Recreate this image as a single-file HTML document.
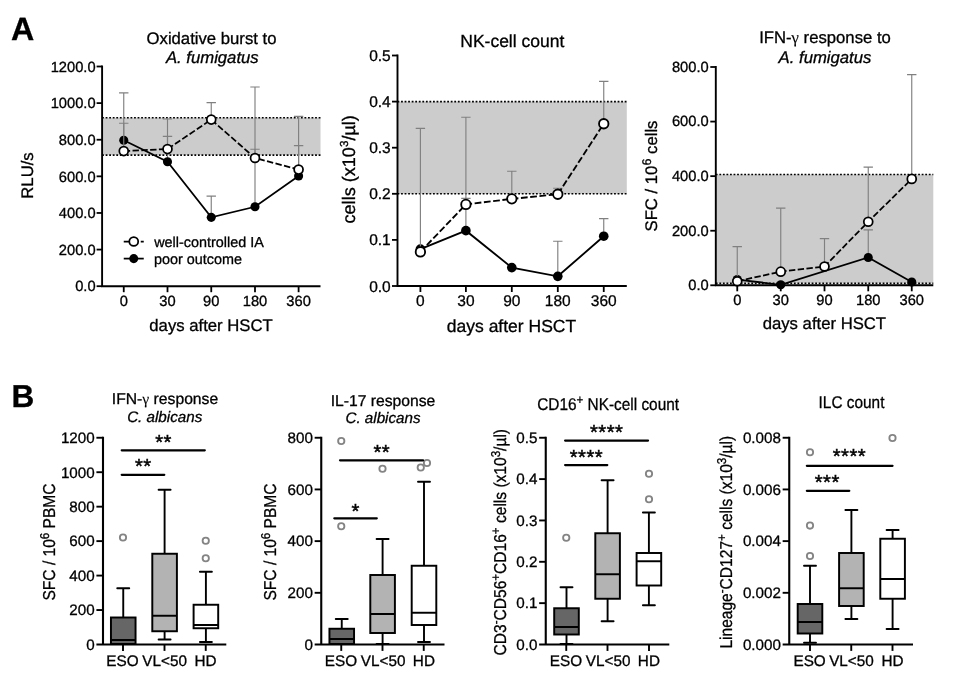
<!DOCTYPE html>
<html lang="en">
<head>
<meta charset="utf-8">
<title>Figure</title>
<style>
html,body{margin:0;padding:0;background:#fff;}
body{width:960px;height:689px;overflow:hidden;}
svg{display:block;font-family:'Liberation Sans', sans-serif;fill:#000;}
svg text{fill:#000;stroke:#000;stroke-width:0.3px;text-rendering:geometricPrecision;}
</style>
</head>
<body>
<svg width="960" height="689" viewBox="0 0 960 689">
<rect x="0" y="0" width="960" height="689" fill="#ffffff"/>
<rect x="102.1" y="117.76" width="218.4" height="37.35" fill="#cccccc"/>
<line x1="102.1" y1="155.11" x2="320.5" y2="155.11" stroke="#000" stroke-width="1.6" stroke-dasharray="1.8 1.75"/>
<line x1="102.1" y1="117.76" x2="320.5" y2="117.76" stroke="#000" stroke-width="1.6" stroke-dasharray="1.8 1.75"/>
<path d="M102.1 65.6V286.2H320.5" stroke="#000" stroke-width="1.9" fill="none" stroke-linejoin="miter"/>
<line x1="96.6" y1="286.2" x2="102.1" y2="286.2" stroke="#000" stroke-width="1.8"/>
<text x="95.6" y="291.4" font-size="14.7" text-anchor="end">0.0</text>
<line x1="96.6" y1="249.58" x2="102.1" y2="249.58" stroke="#000" stroke-width="1.8"/>
<text x="95.6" y="254.78" font-size="14.7" text-anchor="end">200.0</text>
<line x1="96.6" y1="212.97" x2="102.1" y2="212.97" stroke="#000" stroke-width="1.8"/>
<text x="95.6" y="218.17" font-size="14.7" text-anchor="end">400.0</text>
<line x1="96.6" y1="176.35" x2="102.1" y2="176.35" stroke="#000" stroke-width="1.8"/>
<text x="95.6" y="181.55" font-size="14.7" text-anchor="end">600.0</text>
<line x1="96.6" y1="139.73" x2="102.1" y2="139.73" stroke="#000" stroke-width="1.8"/>
<text x="95.6" y="144.93" font-size="14.7" text-anchor="end">800.0</text>
<line x1="96.6" y1="103.12" x2="102.1" y2="103.12" stroke="#000" stroke-width="1.8"/>
<text x="95.6" y="108.32" font-size="14.7" text-anchor="end">1000.0</text>
<line x1="96.6" y1="66.5" x2="102.1" y2="66.5" stroke="#000" stroke-width="1.8"/>
<text x="95.6" y="71.7" font-size="14.7" text-anchor="end">1200.0</text>
<line x1="123.75" y1="286.2" x2="123.75" y2="292.2" stroke="#000" stroke-width="1.8"/>
<text x="123.75" y="305.7" font-size="14.7" text-anchor="middle">0</text>
<line x1="167.5" y1="286.2" x2="167.5" y2="292.2" stroke="#000" stroke-width="1.8"/>
<text x="167.5" y="305.7" font-size="14.7" text-anchor="middle">30</text>
<line x1="211.25" y1="286.2" x2="211.25" y2="292.2" stroke="#000" stroke-width="1.8"/>
<text x="211.25" y="305.7" font-size="14.7" text-anchor="middle">90</text>
<line x1="255" y1="286.2" x2="255" y2="292.2" stroke="#000" stroke-width="1.8"/>
<text x="255" y="305.7" font-size="14.7" text-anchor="middle">180</text>
<line x1="298.6" y1="286.2" x2="298.6" y2="292.2" stroke="#000" stroke-width="1.8"/>
<text x="298.6" y="305.7" font-size="14.7" text-anchor="middle">360</text>
<path d="M123.75 140.28V123.26M119.05 123.26H128.45" stroke="#808080" stroke-width="1.15" fill="none"/>
<path d="M167.5 161.7V136.44M162.8 136.44H172.2" stroke="#808080" stroke-width="1.15" fill="none"/>
<path d="M211.25 217.36V196.12M206.55 196.12H215.95" stroke="#808080" stroke-width="1.15" fill="none"/>
<path d="M255 206.74V87.01M250.3 87.01H259.7" stroke="#808080" stroke-width="1.15" fill="none"/>
<path d="M298.6 175.98V145.59M293.90000000000003 145.59H303.3" stroke="#808080" stroke-width="1.15" fill="none"/>
<polyline points="123.75,140.28 167.5,161.7 211.25,217.36 255,206.74 298.6,175.98" fill="none" stroke="#000" stroke-width="1.75"/>
<circle cx="123.75" cy="140.28" r="4.55" fill="#000"/>
<circle cx="167.5" cy="161.7" r="4.55" fill="#000"/>
<circle cx="211.25" cy="217.36" r="4.55" fill="#000"/>
<circle cx="255" cy="206.74" r="4.55" fill="#000"/>
<circle cx="298.6" cy="175.98" r="4.55" fill="#000"/>
<path d="M123.75 151.08V92.86M119.05 92.86H128.45" stroke="#808080" stroke-width="1.15" fill="none"/>
<path d="M167.5 149.07V119.04M162.8 119.04H172.2" stroke="#808080" stroke-width="1.15" fill="none"/>
<path d="M211.25 119.59V102.57M206.55 102.57H215.95" stroke="#808080" stroke-width="1.15" fill="none"/>
<path d="M255 158.04V149.25M250.3 149.25H259.7" stroke="#808080" stroke-width="1.15" fill="none"/>
<path d="M298.6 169.58V116.3M293.90000000000003 116.3H303.3" stroke="#808080" stroke-width="1.15" fill="none"/>
<polyline points="123.75,151.08 167.5,149.07 211.25,119.59 255,158.04 298.6,169.58" fill="none" stroke="#000" stroke-width="1.75" stroke-dasharray="6.4 2.4"/>
<circle cx="123.75" cy="151.08" r="4.45" fill="#fff" stroke="#000" stroke-width="1.75"/>
<circle cx="167.5" cy="149.07" r="4.45" fill="#fff" stroke="#000" stroke-width="1.75"/>
<circle cx="211.25" cy="119.59" r="4.45" fill="#fff" stroke="#000" stroke-width="1.75"/>
<circle cx="255" cy="158.04" r="4.45" fill="#fff" stroke="#000" stroke-width="1.75"/>
<circle cx="298.6" cy="169.58" r="4.45" fill="#fff" stroke="#000" stroke-width="1.75"/>
<text x="211.5" y="43.9" font-size="16.7" text-anchor="middle">Oxidative burst to</text>
<text x="212.3" y="62.9" font-size="16.7" text-anchor="middle" font-style="italic">A. fumigatus</text>
<text x="211" y="330.7" font-size="16.7" text-anchor="middle">days after HSCT</text>
<text transform="translate(33.4 175.5) rotate(-90)" font-size="16.7" text-anchor="middle">RLU/s</text>
<rect x="397.5" y="101.6" width="229.29999999999995" height="92.2" fill="#cccccc"/>
<line x1="397.5" y1="193.8" x2="626.8" y2="193.8" stroke="#000" stroke-width="1.6" stroke-dasharray="1.8 1.75"/>
<line x1="397.5" y1="101.6" x2="626.8" y2="101.6" stroke="#000" stroke-width="1.6" stroke-dasharray="1.8 1.75"/>
<path d="M397.5 54.6V286.0H626.8" stroke="#000" stroke-width="1.9" fill="none" stroke-linejoin="miter"/>
<line x1="392.0" y1="286.0" x2="397.5" y2="286.0" stroke="#000" stroke-width="1.8"/>
<text x="390.7" y="291.5" font-size="15.5" text-anchor="end">0.0</text>
<line x1="392.0" y1="239.9" x2="397.5" y2="239.9" stroke="#000" stroke-width="1.8"/>
<text x="390.7" y="245.4" font-size="15.5" text-anchor="end">0.1</text>
<line x1="392.0" y1="193.8" x2="397.5" y2="193.8" stroke="#000" stroke-width="1.8"/>
<text x="390.7" y="199.3" font-size="15.5" text-anchor="end">0.2</text>
<line x1="392.0" y1="147.7" x2="397.5" y2="147.7" stroke="#000" stroke-width="1.8"/>
<text x="390.7" y="153.2" font-size="15.5" text-anchor="end">0.3</text>
<line x1="392.0" y1="101.6" x2="397.5" y2="101.6" stroke="#000" stroke-width="1.8"/>
<text x="390.7" y="107.1" font-size="15.5" text-anchor="end">0.4</text>
<line x1="392.0" y1="55.5" x2="397.5" y2="55.5" stroke="#000" stroke-width="1.8"/>
<text x="390.7" y="61.0" font-size="15.5" text-anchor="end">0.5</text>
<line x1="420.4" y1="286.0" x2="420.4" y2="292.0" stroke="#000" stroke-width="1.8"/>
<text x="420.4" y="306.2" font-size="15.5" text-anchor="middle">0</text>
<line x1="465.9" y1="286.0" x2="465.9" y2="292.0" stroke="#000" stroke-width="1.8"/>
<text x="465.9" y="306.2" font-size="15.5" text-anchor="middle">30</text>
<line x1="511.8" y1="286.0" x2="511.8" y2="292.0" stroke="#000" stroke-width="1.8"/>
<text x="511.8" y="306.2" font-size="15.5" text-anchor="middle">90</text>
<line x1="557.8" y1="286.0" x2="557.8" y2="292.0" stroke="#000" stroke-width="1.8"/>
<text x="557.8" y="306.2" font-size="15.5" text-anchor="middle">180</text>
<line x1="603.75" y1="286.0" x2="603.75" y2="292.0" stroke="#000" stroke-width="1.8"/>
<text x="603.75" y="306.2" font-size="15.5" text-anchor="middle">360</text>
<path d="M465.9 230.68V198.41M461.2 198.41H470.59999999999997" stroke="#808080" stroke-width="1.15" fill="none"/>
<path d="M557.8 276.32V241.28M553.0999999999999 241.28H562.5" stroke="#808080" stroke-width="1.15" fill="none"/>
<path d="M603.75 236.21V218.69M599.05 218.69H608.45" stroke="#808080" stroke-width="1.15" fill="none"/>
<polyline points="420.4,249.12 465.9,230.68 511.8,267.56 557.8,276.32 603.75,236.21" fill="none" stroke="#000" stroke-width="1.85"/>
<circle cx="420.4" cy="249.12" r="4.82" fill="#000"/>
<circle cx="465.9" cy="230.68" r="4.82" fill="#000"/>
<circle cx="511.8" cy="267.56" r="4.82" fill="#000"/>
<circle cx="557.8" cy="276.32" r="4.82" fill="#000"/>
<circle cx="603.75" cy="236.21" r="4.82" fill="#000"/>
<path d="M420.4 251.89V128.34M415.7 128.34H425.09999999999997" stroke="#808080" stroke-width="1.15" fill="none"/>
<path d="M465.9 204.4V117.27M461.2 117.27H470.59999999999997" stroke="#808080" stroke-width="1.15" fill="none"/>
<path d="M511.8 198.87V171.21M507.1 171.21H516.5" stroke="#808080" stroke-width="1.15" fill="none"/>
<path d="M557.8 194.26V188.27M553.0999999999999 188.27H562.5" stroke="#808080" stroke-width="1.15" fill="none"/>
<path d="M603.75 123.73V81.32M599.05 81.32H608.45" stroke="#808080" stroke-width="1.15" fill="none"/>
<polyline points="420.4,251.89 465.9,204.4 511.8,198.87 557.8,194.26 603.75,123.73" fill="none" stroke="#000" stroke-width="1.85" stroke-dasharray="6.78 2.54"/>
<circle cx="420.4" cy="251.89" r="4.72" fill="#fff" stroke="#000" stroke-width="1.85"/>
<circle cx="465.9" cy="204.4" r="4.72" fill="#fff" stroke="#000" stroke-width="1.85"/>
<circle cx="511.8" cy="198.87" r="4.72" fill="#fff" stroke="#000" stroke-width="1.85"/>
<circle cx="557.8" cy="194.26" r="4.72" fill="#fff" stroke="#000" stroke-width="1.85"/>
<circle cx="603.75" cy="123.73" r="4.72" fill="#fff" stroke="#000" stroke-width="1.85"/>
<text x="512.3" y="47.1" font-size="17.5" text-anchor="middle">NK-cell count</text>
<text x="511.5" y="331.6" font-size="17.5" text-anchor="middle">days after HSCT</text>
<text transform="translate(354.6 169.3) rotate(-90)" font-size="18.1" text-anchor="middle">cells (x10<tspan font-size="11.6" dy="-6.6">3</tspan><tspan dy="6.6">/µl)</tspan></text>
<rect x="715.8" y="174.51" width="217.5" height="108.88" fill="#cccccc"/>
<line x1="715.8" y1="283.39" x2="933.3" y2="283.39" stroke="#000" stroke-width="1.6" stroke-dasharray="1.8 1.75"/>
<line x1="715.8" y1="174.51" x2="933.3" y2="174.51" stroke="#000" stroke-width="1.6" stroke-dasharray="1.8 1.75"/>
<path d="M715.8 66.1V285.3H933.3" stroke="#000" stroke-width="1.9" fill="none" stroke-linejoin="miter"/>
<line x1="710.3" y1="285.3" x2="715.8" y2="285.3" stroke="#000" stroke-width="1.8"/>
<text x="708.7" y="290.1" font-size="14.7" text-anchor="end">0.0</text>
<line x1="710.3" y1="230.73" x2="715.8" y2="230.73" stroke="#000" stroke-width="1.8"/>
<text x="708.7" y="235.53" font-size="14.7" text-anchor="end">200.0</text>
<line x1="710.3" y1="176.15" x2="715.8" y2="176.15" stroke="#000" stroke-width="1.8"/>
<text x="708.7" y="180.95" font-size="14.7" text-anchor="end">400.0</text>
<line x1="710.3" y1="121.58" x2="715.8" y2="121.58" stroke="#000" stroke-width="1.8"/>
<text x="708.7" y="126.38" font-size="14.7" text-anchor="end">600.0</text>
<line x1="710.3" y1="67.0" x2="715.8" y2="67.0" stroke="#000" stroke-width="1.8"/>
<text x="708.7" y="71.8" font-size="14.7" text-anchor="end">800.0</text>
<line x1="737.25" y1="285.3" x2="737.25" y2="291.3" stroke="#000" stroke-width="1.8"/>
<text x="737.25" y="304.7" font-size="14.7" text-anchor="middle">0</text>
<line x1="780.75" y1="285.3" x2="780.75" y2="291.3" stroke="#000" stroke-width="1.8"/>
<text x="780.75" y="304.7" font-size="14.7" text-anchor="middle">30</text>
<line x1="824.5" y1="285.3" x2="824.5" y2="291.3" stroke="#000" stroke-width="1.8"/>
<text x="824.5" y="304.7" font-size="14.7" text-anchor="middle">90</text>
<line x1="868.25" y1="285.3" x2="868.25" y2="291.3" stroke="#000" stroke-width="1.8"/>
<text x="868.25" y="304.7" font-size="14.7" text-anchor="middle">180</text>
<line x1="911.75" y1="285.3" x2="911.75" y2="291.3" stroke="#000" stroke-width="1.8"/>
<text x="911.75" y="304.7" font-size="14.7" text-anchor="middle">360</text>
<path d="M868.25 257.47V229.91M863.55 229.91H872.95" stroke="#808080" stroke-width="1.15" fill="none"/>
<polyline points="737.25,279.57 780.75,284.75 868.25,257.47 911.75,282.03" fill="none" stroke="#000" stroke-width="1.75"/>
<circle cx="737.25" cy="279.57" r="4.55" fill="#000"/>
<circle cx="780.75" cy="284.75" r="4.55" fill="#000"/>
<circle cx="868.25" cy="257.47" r="4.55" fill="#000"/>
<circle cx="911.75" cy="282.03" r="4.55" fill="#000"/>
<path d="M737.25 281.21V246.55M732.55 246.55H741.95" stroke="#808080" stroke-width="1.15" fill="none"/>
<path d="M780.75 271.66V208.08M776.05 208.08H785.45" stroke="#808080" stroke-width="1.15" fill="none"/>
<path d="M824.5 266.47V238.64M819.8 238.64H829.2" stroke="#808080" stroke-width="1.15" fill="none"/>
<path d="M868.25 221.72V167.15M863.55 167.15H872.95" stroke="#808080" stroke-width="1.15" fill="none"/>
<path d="M911.75 178.88V74.64M907.05 74.64H916.45" stroke="#808080" stroke-width="1.15" fill="none"/>
<polyline points="737.25,281.21 780.75,271.66 824.5,266.47 868.25,221.72 911.75,178.88" fill="none" stroke="#000" stroke-width="1.75" stroke-dasharray="6.4 2.4"/>
<circle cx="737.25" cy="281.21" r="4.45" fill="#fff" stroke="#000" stroke-width="1.75"/>
<circle cx="780.75" cy="271.66" r="4.45" fill="#fff" stroke="#000" stroke-width="1.75"/>
<circle cx="824.5" cy="266.47" r="4.45" fill="#fff" stroke="#000" stroke-width="1.75"/>
<circle cx="868.25" cy="221.72" r="4.45" fill="#fff" stroke="#000" stroke-width="1.75"/>
<circle cx="911.75" cy="178.88" r="4.45" fill="#fff" stroke="#000" stroke-width="1.75"/>
<text x="825" y="43.1" font-size="16.7" text-anchor="middle">IFN-<tspan font-family="'Liberation Serif', serif" style="stroke-width:0.1px">γ</tspan> response to</text>
<text x="825" y="63.0" font-size="16.7" text-anchor="middle" font-style="italic">A. fumigatus</text>
<text x="824.4" y="329" font-size="16.7" text-anchor="middle">days after HSCT</text>
<text transform="translate(657.2 176) rotate(-90)" font-size="16.7" text-anchor="middle">SFC / 10<tspan font-size="12.6" dy="-6.3">6</tspan><tspan dy="6.3"> cells</tspan></text>
<line x1="123.75" y1="241.5" x2="143.75" y2="241.5" stroke="#000" stroke-width="1.75" stroke-dasharray="6 2.5"/>
<circle cx="133.75" cy="241.5" r="4.45" fill="#fff" stroke="#000" stroke-width="1.75"/>
<line x1="123.75" y1="258.6" x2="143.75" y2="258.6" stroke="#000" stroke-width="1.75"/>
<circle cx="133.75" cy="258.6" r="4.55" fill="#000"/>
<text x="154.2" y="246.6" font-size="14.4" text-anchor="start">well-controlled IA</text>
<text x="153.9" y="264.1" font-size="14.4" text-anchor="start">poor outcome</text>
<path d="M103 436.75V644.5M96.4 644.5H226.3" stroke="#000" stroke-width="2.1" fill="none"/>
<text x="94.7" y="649.8" font-size="15.2" text-anchor="end">0</text>
<line x1="96.4" y1="610.04" x2="103" y2="610.04" stroke="#000" stroke-width="1.9"/>
<text x="94.7" y="615.34" font-size="15.2" text-anchor="end">200</text>
<line x1="96.4" y1="575.58" x2="103" y2="575.58" stroke="#000" stroke-width="1.9"/>
<text x="94.7" y="580.88" font-size="15.2" text-anchor="end">400</text>
<line x1="96.4" y1="541.12" x2="103" y2="541.12" stroke="#000" stroke-width="1.9"/>
<text x="94.7" y="546.42" font-size="15.2" text-anchor="end">600</text>
<line x1="96.4" y1="506.67" x2="103" y2="506.67" stroke="#000" stroke-width="1.9"/>
<text x="94.7" y="511.97" font-size="15.2" text-anchor="end">800</text>
<line x1="96.4" y1="472.21" x2="103" y2="472.21" stroke="#000" stroke-width="1.9"/>
<text x="94.7" y="477.51" font-size="15.2" text-anchor="end">1000</text>
<line x1="96.4" y1="437.75" x2="103" y2="437.75" stroke="#000" stroke-width="1.9"/>
<text x="94.7" y="443.05" font-size="15.2" text-anchor="end">1200</text>
<line x1="123" y1="644.5" x2="123" y2="650.9" stroke="#000" stroke-width="1.9"/>
<line x1="164.5" y1="644.5" x2="164.5" y2="650.9" stroke="#000" stroke-width="1.9"/>
<line x1="205.75" y1="644.5" x2="205.75" y2="650.9" stroke="#000" stroke-width="1.9"/>
<text x="122.5" y="666.2" font-size="15.3" text-anchor="middle">ESO</text>
<text x="164.6" y="666.2" font-size="15.3" text-anchor="middle">VL&lt;50</text>
<text x="205.6" y="666.2" font-size="15.3" text-anchor="middle">HD</text>
<path d="M123.25 588.25V617.5M123.25 644V644M117.25 588.25H129.25M117.25 644H129.25" stroke="#000" stroke-width="1.9" stroke-linecap="round" fill="none"/>
<rect x="110.95" y="617.5" width="24.6" height="26.5" fill="#666666" stroke="#000" stroke-width="1.95"/>
<line x1="110.95" y1="640" x2="135.55" y2="640" stroke="#000" stroke-width="1.95"/>
<path d="M164.6 489.75V553.75M164.6 631.25V639.5M158.6 489.75H170.6M158.6 639.5H170.6" stroke="#000" stroke-width="1.9" stroke-linecap="round" fill="none"/>
<rect x="152.3" y="553.75" width="24.6" height="77.5" fill="#b3b3b3" stroke="#000" stroke-width="1.95"/>
<line x1="152.3" y1="615.75" x2="176.9" y2="615.75" stroke="#000" stroke-width="1.95"/>
<path d="M205.9 571.75V604.75M205.9 628.25V642M199.9 571.75H211.9M199.9 642H211.9" stroke="#000" stroke-width="1.9" stroke-linecap="round" fill="none"/>
<rect x="193.6" y="604.75" width="24.6" height="23.5" fill="#ffffff" stroke="#000" stroke-width="1.95"/>
<line x1="193.6" y1="625" x2="218.2" y2="625" stroke="#000" stroke-width="1.95"/>
<circle cx="123" cy="537.5" r="3.15" fill="#fff" stroke="#848484" stroke-width="1.85"/>
<circle cx="205.75" cy="540.75" r="3.15" fill="#fff" stroke="#848484" stroke-width="1.85"/>
<circle cx="205.75" cy="558.25" r="3.15" fill="#fff" stroke="#848484" stroke-width="1.85"/>
<line x1="121.7" y1="450.3" x2="204.8" y2="450.3" stroke="#000" stroke-width="2.2" stroke-linecap="round"/>
<text x="163.47" y="448.7" font-size="20.3" text-anchor="middle" letter-spacing="0.45" style="stroke-width:0.45px">**</text>
<line x1="121.7" y1="474.8" x2="164.3" y2="474.8" stroke="#000" stroke-width="2.2" stroke-linecap="round"/>
<text x="143.22" y="473.4" font-size="20.3" text-anchor="middle" letter-spacing="0.45" style="stroke-width:0.45px">**</text>
<text x="165" y="403.8" font-size="15.7" text-anchor="middle">IFN-<tspan font-family="'Liberation Serif', serif" style="stroke-width:0.1px">γ</tspan> response</text>
<text x="164.7" y="422.2" font-size="15.2" text-anchor="middle" font-style="italic">C. albicans</text>
<text transform="translate(55.2 542) rotate(-90) scale(0.905 1)" font-size="17.2" text-anchor="middle">SFC / 10<tspan font-size="12.8" dy="-6.0">6</tspan><tspan dy="6.0"> PBMC</tspan></text>
<path d="M321.25 436.75V644.5M314.65 644.5H444.5" stroke="#000" stroke-width="2.1" fill="none"/>
<text x="312.95" y="649.8" font-size="15.2" text-anchor="end">0</text>
<line x1="314.65" y1="592.81" x2="321.25" y2="592.81" stroke="#000" stroke-width="1.9"/>
<text x="312.95" y="598.11" font-size="15.2" text-anchor="end">200</text>
<line x1="314.65" y1="541.12" x2="321.25" y2="541.12" stroke="#000" stroke-width="1.9"/>
<text x="312.95" y="546.42" font-size="15.2" text-anchor="end">400</text>
<line x1="314.65" y1="489.44" x2="321.25" y2="489.44" stroke="#000" stroke-width="1.9"/>
<text x="312.95" y="494.74" font-size="15.2" text-anchor="end">600</text>
<line x1="314.65" y1="437.75" x2="321.25" y2="437.75" stroke="#000" stroke-width="1.9"/>
<text x="312.95" y="443.05" font-size="15.2" text-anchor="end">800</text>
<line x1="341.25" y1="644.5" x2="341.25" y2="650.9" stroke="#000" stroke-width="1.9"/>
<line x1="382.5" y1="644.5" x2="382.5" y2="650.9" stroke="#000" stroke-width="1.9"/>
<line x1="423.75" y1="644.5" x2="423.75" y2="650.9" stroke="#000" stroke-width="1.9"/>
<text x="340.9" y="666.2" font-size="15.3" text-anchor="middle">ESO</text>
<text x="383.1" y="666.2" font-size="15.3" text-anchor="middle">VL&lt;50</text>
<text x="423.9" y="666.2" font-size="15.3" text-anchor="middle">HD</text>
<path d="M341.75 619V628.75M341.75 644V644M335.75 619H347.75M335.75 644H347.75" stroke="#000" stroke-width="1.9" stroke-linecap="round" fill="none"/>
<rect x="329.45" y="628.75" width="24.6" height="15.25" fill="#666666" stroke="#000" stroke-width="1.95"/>
<line x1="329.45" y1="639" x2="354.05" y2="639" stroke="#000" stroke-width="1.95"/>
<path d="M382.6 539V575M382.6 633V644M376.6 539H388.6M376.6 644H388.6" stroke="#000" stroke-width="1.9" stroke-linecap="round" fill="none"/>
<rect x="370.3" y="575" width="24.6" height="58" fill="#b3b3b3" stroke="#000" stroke-width="1.95"/>
<line x1="370.3" y1="614" x2="394.9" y2="614" stroke="#000" stroke-width="1.95"/>
<path d="M424 481.75V565.75M424 625V642M418 481.75H430M418 642H430" stroke="#000" stroke-width="1.9" stroke-linecap="round" fill="none"/>
<rect x="411.7" y="565.75" width="24.6" height="59.25" fill="#ffffff" stroke="#000" stroke-width="1.95"/>
<line x1="411.7" y1="612.75" x2="436.3" y2="612.75" stroke="#000" stroke-width="1.95"/>
<circle cx="341.25" cy="441" r="3.15" fill="#fff" stroke="#848484" stroke-width="1.85"/>
<circle cx="341.25" cy="526.25" r="3.15" fill="#fff" stroke="#848484" stroke-width="1.85"/>
<circle cx="382.5" cy="468.75" r="3.15" fill="#fff" stroke="#848484" stroke-width="1.85"/>
<circle cx="420.75" cy="467.5" r="3.15" fill="#fff" stroke="#848484" stroke-width="1.85"/>
<circle cx="427" cy="463" r="3.15" fill="#fff" stroke="#848484" stroke-width="1.85"/>
<line x1="340.0" y1="460.3" x2="423.05" y2="460.3" stroke="#000" stroke-width="2.2" stroke-linecap="round"/>
<text x="381.72" y="458.7" font-size="20.3" text-anchor="middle" letter-spacing="0.45" style="stroke-width:0.45px">**</text>
<line x1="334.3" y1="518.3" x2="376.8" y2="518.3" stroke="#000" stroke-width="2.2" stroke-linecap="round"/>
<text x="355.72" y="517.7" font-size="20.3" text-anchor="middle" letter-spacing="0.45" style="stroke-width:0.45px">*</text>
<text x="383" y="406.3" font-size="15.7" text-anchor="middle">IL-17 response</text>
<text x="383" y="423.3" font-size="15.2" text-anchor="middle" font-style="italic">C. albicans</text>
<text transform="translate(275.7 542) rotate(-90) scale(0.905 1)" font-size="17.2" text-anchor="middle">SFC / 10<tspan font-size="12.8" dy="-6.0">6</tspan><tspan dy="6.0"> PBMC</tspan></text>
<path d="M545.75 436.75V644.5M539.15 644.5H669.3" stroke="#000" stroke-width="2.1" fill="none"/>
<text x="537.45" y="649.8" font-size="15.2" text-anchor="end">0.0</text>
<line x1="539.15" y1="603.15" x2="545.75" y2="603.15" stroke="#000" stroke-width="1.9"/>
<text x="537.45" y="608.45" font-size="15.2" text-anchor="end">0.1</text>
<line x1="539.15" y1="561.8" x2="545.75" y2="561.8" stroke="#000" stroke-width="1.9"/>
<text x="537.45" y="567.1" font-size="15.2" text-anchor="end">0.2</text>
<line x1="539.15" y1="520.45" x2="545.75" y2="520.45" stroke="#000" stroke-width="1.9"/>
<text x="537.45" y="525.75" font-size="15.2" text-anchor="end">0.3</text>
<line x1="539.15" y1="479.1" x2="545.75" y2="479.1" stroke="#000" stroke-width="1.9"/>
<text x="537.45" y="484.4" font-size="15.2" text-anchor="end">0.4</text>
<line x1="539.15" y1="437.75" x2="545.75" y2="437.75" stroke="#000" stroke-width="1.9"/>
<text x="537.45" y="443.05" font-size="15.2" text-anchor="end">0.5</text>
<line x1="566.25" y1="644.5" x2="566.25" y2="650.9" stroke="#000" stroke-width="1.9"/>
<line x1="607.5" y1="644.5" x2="607.5" y2="650.9" stroke="#000" stroke-width="1.9"/>
<line x1="649" y1="644.5" x2="649" y2="650.9" stroke="#000" stroke-width="1.9"/>
<text x="566" y="666.2" font-size="15.3" text-anchor="middle">ESO</text>
<text x="608.1" y="666.2" font-size="15.3" text-anchor="middle">VL&lt;50</text>
<text x="648.9" y="666.2" font-size="15.3" text-anchor="middle">HD</text>
<path d="M566.5 587.25V608.25M566.5 634.5V644M560.5 587.25H572.5M560.5 644H572.5" stroke="#000" stroke-width="1.9" stroke-linecap="round" fill="none"/>
<rect x="554.2" y="608.25" width="24.6" height="26.25" fill="#666666" stroke="#000" stroke-width="1.95"/>
<line x1="554.2" y1="627" x2="578.8" y2="627" stroke="#000" stroke-width="1.95"/>
<path d="M607.6 480.25V533.25M607.6 598.75V621.25M601.6 480.25H613.6M601.6 621.25H613.6" stroke="#000" stroke-width="1.9" stroke-linecap="round" fill="none"/>
<rect x="595.3" y="533.25" width="24.6" height="65.5" fill="#b3b3b3" stroke="#000" stroke-width="1.95"/>
<line x1="595.3" y1="574.25" x2="619.9" y2="574.25" stroke="#000" stroke-width="1.95"/>
<path d="M648.9 512.5V553M648.9 585.5V605.25M642.9 512.5H654.9M642.9 605.25H654.9" stroke="#000" stroke-width="1.9" stroke-linecap="round" fill="none"/>
<rect x="636.6" y="553" width="24.6" height="32.5" fill="#ffffff" stroke="#000" stroke-width="1.95"/>
<line x1="636.6" y1="561.25" x2="661.2" y2="561.25" stroke="#000" stroke-width="1.95"/>
<circle cx="566.25" cy="537.75" r="3.15" fill="#fff" stroke="#848484" stroke-width="1.85"/>
<circle cx="649" cy="473.75" r="3.15" fill="#fff" stroke="#848484" stroke-width="1.85"/>
<circle cx="649" cy="499.25" r="3.15" fill="#fff" stroke="#848484" stroke-width="1.85"/>
<line x1="565.1" y1="440.55" x2="648.05" y2="440.55" stroke="#000" stroke-width="2.2" stroke-linecap="round"/>
<text x="606.72" y="438.95" font-size="20.3" text-anchor="middle" letter-spacing="0.45" style="stroke-width:0.45px">****</text>
<line x1="565.1" y1="465.05" x2="607.3" y2="465.05" stroke="#000" stroke-width="2.2" stroke-linecap="round"/>
<text x="586.47" y="463.95" font-size="20.3" text-anchor="middle" letter-spacing="0.45" style="stroke-width:0.45px">****</text>
<text transform="translate(608.1 410) scale(0.905 1)" font-size="17.0" text-anchor="middle">CD16<tspan font-size="12.8" dy="-6.0">+</tspan><tspan dy="6.0"> NK-cell count</tspan></text>
<text transform="translate(506.2 542.2) rotate(-90) scale(0.905 1)" font-size="17.2" text-anchor="middle">CD3<tspan font-size="12.8" dy="-6.0">-</tspan><tspan dy="6.0">CD56</tspan><tspan font-size="12.8" dy="-6.0">+</tspan><tspan dy="6.0">CD16</tspan><tspan font-size="12.8" dy="-6.0">+</tspan><tspan dy="6.0"> cells (x10</tspan><tspan font-size="12.8" dy="-6.0">3</tspan><tspan dy="6.0">/µl)</tspan></text>
<path d="M789.25 436.75V644.5M782.65 644.5H913" stroke="#000" stroke-width="2.1" fill="none"/>
<text x="780.95" y="649.8" font-size="15.2" text-anchor="end">0.000</text>
<line x1="782.65" y1="592.81" x2="789.25" y2="592.81" stroke="#000" stroke-width="1.9"/>
<text x="780.95" y="598.11" font-size="15.2" text-anchor="end">0.002</text>
<line x1="782.65" y1="541.12" x2="789.25" y2="541.12" stroke="#000" stroke-width="1.9"/>
<text x="780.95" y="546.42" font-size="15.2" text-anchor="end">0.004</text>
<line x1="782.65" y1="489.44" x2="789.25" y2="489.44" stroke="#000" stroke-width="1.9"/>
<text x="780.95" y="494.74" font-size="15.2" text-anchor="end">0.006</text>
<line x1="782.65" y1="437.75" x2="789.25" y2="437.75" stroke="#000" stroke-width="1.9"/>
<text x="780.95" y="443.05" font-size="15.2" text-anchor="end">0.008</text>
<line x1="810" y1="644.5" x2="810" y2="650.9" stroke="#000" stroke-width="1.9"/>
<line x1="851.25" y1="644.5" x2="851.25" y2="650.9" stroke="#000" stroke-width="1.9"/>
<line x1="892.5" y1="644.5" x2="892.5" y2="650.9" stroke="#000" stroke-width="1.9"/>
<text x="809.6" y="666.2" font-size="15.3" text-anchor="middle">ESO</text>
<text x="851.5" y="666.2" font-size="15.3" text-anchor="middle">VL&lt;50</text>
<text x="892.6" y="666.2" font-size="15.3" text-anchor="middle">HD</text>
<path d="M810 565.75V604M810 633.5V642.75M804 565.75H816M804 642.75H816" stroke="#000" stroke-width="1.9" stroke-linecap="round" fill="none"/>
<rect x="797.7" y="604" width="24.6" height="29.5" fill="#666666" stroke="#000" stroke-width="1.95"/>
<line x1="797.7" y1="622" x2="822.3" y2="622" stroke="#000" stroke-width="1.95"/>
<path d="M851.4 510V553M851.4 606V619M845.4 510H857.4M845.4 619H857.4" stroke="#000" stroke-width="1.9" stroke-linecap="round" fill="none"/>
<rect x="839.1" y="553" width="24.6" height="53" fill="#b3b3b3" stroke="#000" stroke-width="1.95"/>
<line x1="839.1" y1="588.25" x2="863.7" y2="588.25" stroke="#000" stroke-width="1.95"/>
<path d="M892.6 530V538.75M892.6 598.75V629M886.6 530H898.6M886.6 629H898.6" stroke="#000" stroke-width="1.9" stroke-linecap="round" fill="none"/>
<rect x="880.3" y="538.75" width="24.6" height="60.0" fill="#ffffff" stroke="#000" stroke-width="1.95"/>
<line x1="880.3" y1="579" x2="904.9" y2="579" stroke="#000" stroke-width="1.95"/>
<circle cx="810" cy="452.25" r="3.15" fill="#fff" stroke="#848484" stroke-width="1.85"/>
<circle cx="810" cy="525.6" r="3.15" fill="#fff" stroke="#848484" stroke-width="1.85"/>
<circle cx="810" cy="556" r="3.15" fill="#fff" stroke="#848484" stroke-width="1.85"/>
<circle cx="892.5" cy="438" r="3.15" fill="#fff" stroke="#848484" stroke-width="1.85"/>
<line x1="806.85" y1="465.8" x2="892.55" y2="465.8" stroke="#000" stroke-width="2.2" stroke-linecap="round"/>
<text x="849.47" y="463.1" font-size="20.3" text-anchor="middle" letter-spacing="0.45" style="stroke-width:0.45px">****</text>
<line x1="806.85" y1="490.8" x2="849.3" y2="490.8" stroke="#000" stroke-width="2.2" stroke-linecap="round"/>
<text x="827.22" y="489.2" font-size="20.3" text-anchor="middle" letter-spacing="0.45" style="stroke-width:0.45px">***</text>
<text transform="translate(851.5 408) scale(0.905 1)" font-size="17.0" text-anchor="middle">ILC count</text>
<text transform="translate(731.6 542.2) rotate(-90) scale(0.905 1)" font-size="17.2" text-anchor="middle">Lineage<tspan font-size="12.8" dy="-6.0">-</tspan><tspan dy="6.0">CD127</tspan><tspan font-size="12.8" dy="-6.0">+</tspan><tspan dy="6.0"> cells (x10</tspan><tspan font-size="12.8" dy="-6.0">3</tspan><tspan dy="6.0">/µl)</tspan></text>
<text x="11.0" y="40.4" font-size="32.2" text-anchor="start" font-weight="bold">A</text>
<text x="11.4" y="406.6" font-size="31.6" text-anchor="start" font-weight="bold">B</text>
</svg>
</body>
</html>
